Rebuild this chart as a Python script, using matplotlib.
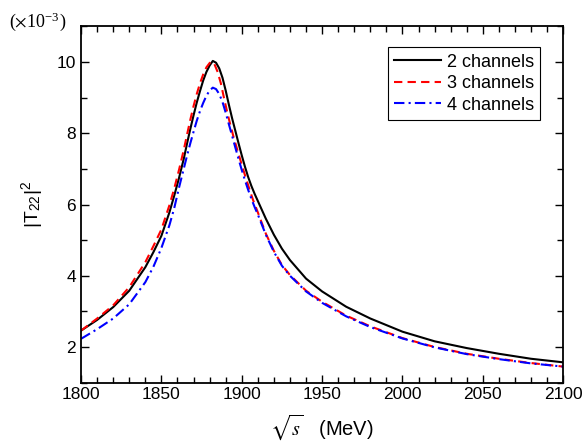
import matplotlib
matplotlib.use("Agg")
import matplotlib.pyplot as plt
from matplotlib.ticker import MultipleLocator

plt.rcParams['font.family'] = ['Liberation Sans', 'DejaVu Sans']
plt.rcParams['mathtext.fontset'] = 'stix'

# sqrt(s) in MeV and |T22|^2 in units of 1e-3
x_2ch = [1800, 1810, 1820, 1830, 1840, 1845, 1850, 1855, 1858, 1861, 1864, 1866, 1868,
         1870, 1872, 1874, 1876, 1878, 1880, 1882, 1884, 1886, 1888, 1890, 1892, 1894,
         1896, 1898, 1900, 1902, 1904, 1906, 1908, 1910, 1915, 1920, 1925, 1930, 1940,
         1950, 1965, 1980, 2000, 2020, 2040, 2060, 2080, 2100]
t_2ch = [2.46, 2.76, 3.12, 3.58, 4.24, 4.66, 5.12, 5.78, 6.25, 6.75, 7.3, 7.72, 8.12,
         8.5, 8.86, 9.18, 9.48, 9.72, 9.9, 10.03, 9.98, 9.82, 9.56, 9.2, 8.8, 8.42,
         8.07, 7.72, 7.38, 7.06, 6.77, 6.52, 6.3, 6.1, 5.6, 5.15, 4.76, 4.44, 3.92,
         3.56, 3.13, 2.8, 2.43, 2.16, 1.97, 1.81, 1.67, 1.57]

x_3ch = [1800, 1810, 1820, 1830, 1840, 1845, 1850, 1855, 1858, 1861, 1864, 1866, 1868,
         1870, 1872, 1874, 1876, 1878, 1880, 1881, 1883, 1885, 1887, 1889, 1891, 1893,
         1895, 1897, 1899, 1901, 1903, 1905, 1907, 1910, 1915, 1920, 1925, 1930, 1940,
         1950, 1965, 1980, 2000, 2020, 2040, 2060, 2080, 2100]
t_3ch = [2.46, 2.8, 3.17, 3.68, 4.38, 4.83, 5.3, 5.98, 6.45, 6.98, 7.55, 7.97, 8.38,
         8.76, 9.1, 9.4, 9.65, 9.85, 9.97, 10.01, 9.94, 9.72, 9.4, 8.98, 8.58, 8.22,
         7.88, 7.57, 7.27, 6.97, 6.68, 6.4, 6.13, 5.78, 5.18, 4.7, 4.3, 4.02, 3.58,
         3.27, 2.88, 2.58, 2.25, 2.0, 1.81, 1.67, 1.55, 1.45]

x_4ch = [1800, 1810, 1820, 1830, 1840, 1845, 1850, 1855, 1858, 1861, 1864, 1866, 1868,
         1870, 1872, 1874, 1876, 1878, 1880, 1882, 1884, 1886, 1888, 1890, 1892, 1894,
         1896, 1898, 1900, 1902, 1904, 1906, 1908, 1910, 1915, 1920, 1925, 1930, 1940,
         1950, 1965, 1980, 2000, 2020, 2040, 2060, 2080, 2100]
t_4ch = [2.23, 2.5, 2.8, 3.2, 3.82, 4.25, 4.78, 5.42, 5.9, 6.48, 7.02, 7.38, 7.72,
         8.04, 8.35, 8.62, 8.85, 9.05, 9.2, 9.28, 9.24, 9.1, 8.88, 8.58, 8.25, 7.93,
         7.6, 7.28, 6.97, 6.68, 6.41, 6.16, 5.93, 5.72, 5.15, 4.67, 4.28, 4.0, 3.56,
         3.24, 2.86, 2.56, 2.24, 1.99, 1.8, 1.66, 1.54, 1.45]

fig = plt.figure(figsize=(5.83, 4.47), dpi=100)
ax = fig.add_axes([0.139, 0.144, 0.827, 0.797])

ax.plot(x_2ch, t_2ch, color='black', lw=1.5, label='2 channels')
ax.plot(x_3ch, t_3ch, color='red', lw=1.5, ls=(0, (4, 2.5)), label='3 channels')
ax.plot(x_4ch, t_4ch, color='blue', lw=1.5, ls=(0, (5, 2, 1, 2)), label='4 channels')

ax.set_xlim(1800, 2100)
ax.set_ylim(1, 11)
ax.xaxis.set_major_locator(MultipleLocator(50))
ax.xaxis.set_minor_locator(MultipleLocator(10))
ax.yaxis.set_major_locator(MultipleLocator(2))
ax.yaxis.set_minor_locator(MultipleLocator(1))
ax.tick_params(which='both', direction='in', top=True, right=True, width=1.0, labelsize=12.5)
ax.tick_params(which='major', length=6)
ax.tick_params(which='minor', length=4)
for s in ax.spines.values():
    s.set_linewidth(1.3)

ax.set_xlabel(r'$\sqrt{s}$   (MeV)', fontsize=14.5, labelpad=7)
ax.set_ylabel(r'|T$_{\mathregular{22}}$|$^{\mathregular{2}}$', fontsize=14, labelpad=8)
fig.text(0.015, 0.94, r'($\times$10$^{\mathregular{-3}}$)', fontsize=13,
         family='Liberation Serif')

leg = ax.legend(loc='upper right', bbox_to_anchor=(0.952, 0.941), fontsize=13,
                handlelength=2.6, handletextpad=0.3, labelspacing=0.25,
                borderpad=0.35, borderaxespad=0, fancybox=False, framealpha=1)
leg.get_frame().set_edgecolor('black')
leg.get_frame().set_linewidth(0.8)

fig.savefig('out.png', dpi=100)
